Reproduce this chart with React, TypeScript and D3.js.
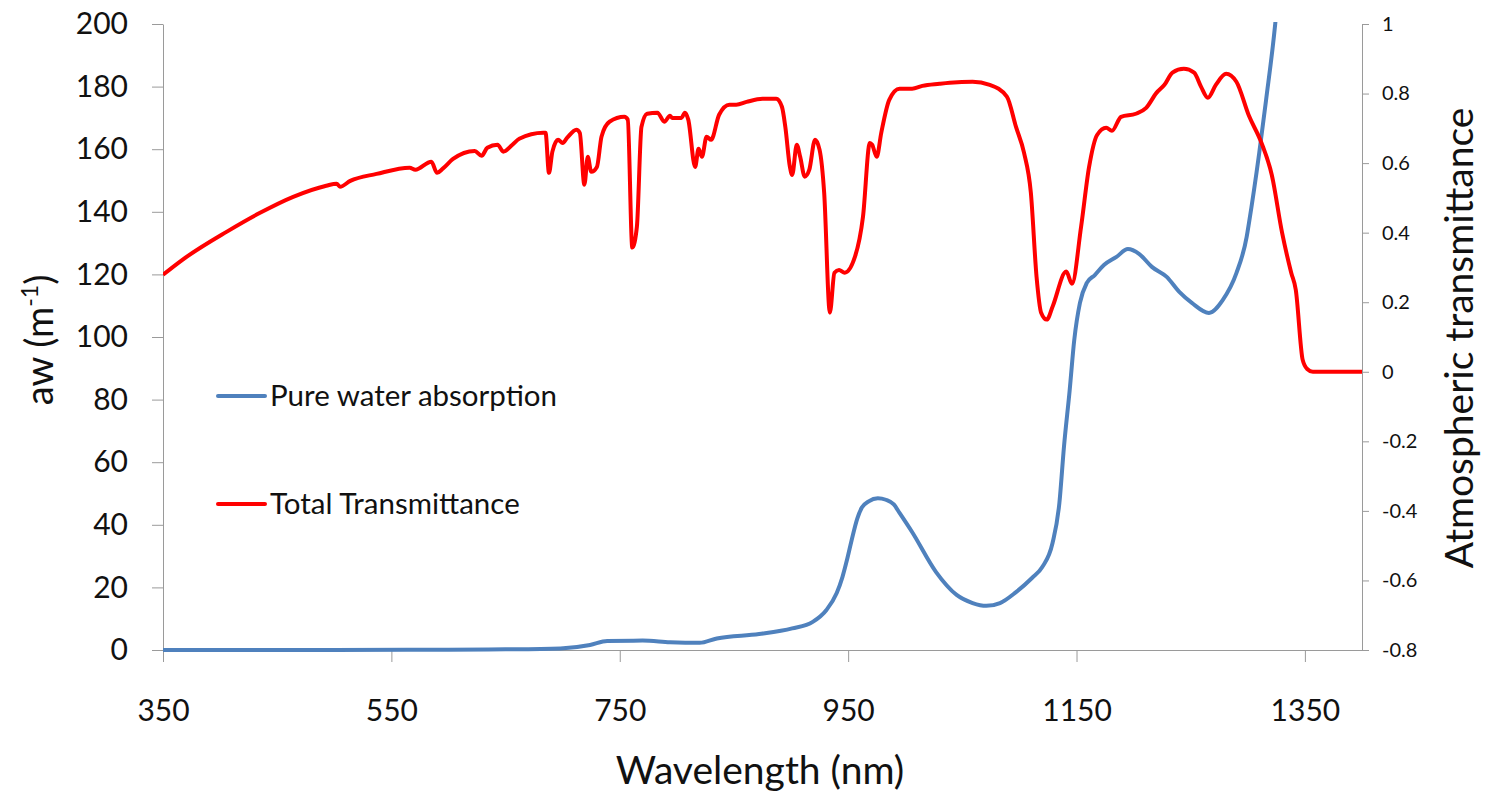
import { useEffect, useRef } from 'react';
import * as d3 from 'd3';

// wavelength (nm) / pure water absorption (m-1), left axis
const waterNm = [350, 500, 600, 650, 698, 724, 739, 770, 794, 820, 835, 872, 901, 919, 931, 940, 945, 949, 953, 958, 962, 968, 976, 983, 990, 995, 1006, 1027, 1045, 1059, 1071, 1083, 1097, 1111, 1120, 1129, 1135, 1139, 1144, 1148, 1153, 1159, 1166, 1174, 1185, 1195, 1205, 1216, 1229, 1240, 1251, 1266, 1278, 1290, 1299, 1301, 1310, 1316, 1324, 1330];
const waterAbs = [0, 0, 0.1, 0.2, 0.5, 1.6, 2.9, 3.0, 2.5, 2.3, 3.7, 5.1, 6.9, 9.0, 12.8, 18.2, 23.3, 28.8, 35, 42, 45.5, 47.5, 48.5, 48, 46.5, 43.8, 37.7, 24.9, 17.6, 15.0, 14.1, 15.0, 18.5, 23.0, 26.5, 34.2, 47, 64.9, 83, 99, 110.9, 117.3, 119.8, 123, 125.6, 128.1, 126.5, 122.4, 119.2, 114.4, 110.9, 107.7, 111.8, 120.4, 132, 136.4, 158.8, 175.7, 200, 225];

// wavelength (nm) / total atmospheric transmittance, right axis
const transNm = [350, 367, 406, 435, 464, 493, 502, 505, 514, 537, 566, 571, 585, 590, 595, 604, 623, 629, 634, 643, 648, 656, 662, 683, 685, 688, 691, 696, 700, 704, 712, 715, 719, 722, 725, 730, 734, 741, 754, 757, 761, 765, 769, 774, 783, 789, 794, 796, 804, 807, 810, 816, 819, 822, 826, 830, 837, 846, 852, 861, 875, 887, 892, 895, 899, 901, 905, 908, 912, 916, 921, 925, 929, 934, 938, 942, 947, 956, 963, 969, 971, 975, 979, 986, 995, 1006, 1015, 1030, 1039, 1059, 1074, 1089, 1097, 1104, 1110, 1115, 1119, 1124, 1129, 1141, 1146, 1154, 1161, 1168, 1176, 1181, 1189, 1202, 1211, 1220, 1227, 1234, 1244, 1253, 1259, 1265, 1272, 1281, 1290, 1301, 1312, 1321, 1330, 1338, 1342, 1348, 1352, 1357, 1400];
const transVal = [0.279, 0.322, 0.403, 0.457, 0.503, 0.535, 0.541, 0.532, 0.549, 0.569, 0.587, 0.581, 0.604, 0.572, 0.584, 0.612, 0.635, 0.621, 0.644, 0.653, 0.633, 0.653, 0.670, 0.687, 0.687, 0.572, 0.633, 0.667, 0.658, 0.673, 0.696, 0.687, 0.538, 0.618, 0.575, 0.589, 0.676, 0.719, 0.733, 0.725, 0.357, 0.417, 0.704, 0.742, 0.745, 0.719, 0.736, 0.730, 0.730, 0.745, 0.725, 0.589, 0.641, 0.618, 0.676, 0.667, 0.739, 0.768, 0.768, 0.776, 0.785, 0.785, 0.762, 0.704, 0.589, 0.566, 0.653, 0.618, 0.561, 0.581, 0.667, 0.638, 0.515, 0.170, 0.285, 0.293, 0.285, 0.331, 0.446, 0.658, 0.653, 0.618, 0.687, 0.782, 0.814, 0.814, 0.822, 0.828, 0.831, 0.834, 0.825, 0.791, 0.704, 0.630, 0.515, 0.273, 0.170, 0.150, 0.187, 0.288, 0.253, 0.417, 0.589, 0.681, 0.702, 0.693, 0.733, 0.742, 0.759, 0.802, 0.825, 0.860, 0.871, 0.860, 0.820, 0.788, 0.825, 0.857, 0.834, 0.736, 0.658, 0.566, 0.400, 0.285, 0.236, 0.035, 0.008, 0, 0];

const xTicks = [350, 550, 750, 950, 1150, 1350];
const leftTicks = [0, 20, 40, 60, 80, 100, 120, 140, 160, 180, 200];
const rightTicks = [-0.8, -0.6, -0.4, -0.2, 0, 0.2, 0.4, 0.6, 0.8, 1];

const FONT = 'Lato, "Open Sans", sans-serif';
const BLUE = '#4f81bd';
const RED = '#ff0000';
const AXIS = '#9a9a9a';

const App = () => {
  const svgRef = useRef(null);

  useEffect(() => {
    if (!svgRef.current) return;
    const svg = d3.select(svgRef.current);
    svg.selectAll('*').remove();

    const left = 163, right = 1362, top = 24, bottom = 650;

    const x = d3.scaleLinear().domain([350, 1400]).range([left, right]);
    const yL = d3.scaleLinear().domain([0, 200]).range([bottom, top]);
    const yR = d3.scaleLinear().domain([-0.8, 1]).range([bottom, top]);

    svg.append('defs').append('clipPath')
      .attr('id', 'plot-clip')
      .append('rect')
      .attr('x', left).attr('y', top - 2)
      .attr('width', right - left).attr('height', bottom - top + 4);

    // axes
    const xAxis = svg.append('g')
      .attr('transform', `translate(0,${bottom})`)
      .call(d3.axisBottom(x).tickValues(xTicks).tickSize(12).tickSizeOuter(0).tickPadding(38).tickFormat(d => `${d}`));
    xAxis.selectAll('text').style('font-size', '30px');

    const lAxis = svg.append('g')
      .attr('transform', `translate(${left},0)`)
      .call(d3.axisLeft(yL).tickValues(leftTicks).tickSize(11).tickSizeOuter(0).tickPadding(24).tickFormat(d => `${d}`));
    lAxis.selectAll('text').style('font-size', '30px');

    const rAxis = svg.append('g')
      .attr('transform', `translate(${right},0)`)
      .call(d3.axisRight(yR).tickValues(rightTicks).tickSize(7).tickSizeOuter(0).tickPadding(13).tickFormat(d => `${d}`));
    rAxis.selectAll('text').style('font-size', '20px');

    svg.selectAll('.domain, .tick line').attr('stroke', AXIS);
    svg.selectAll('.tick text').attr('fill', '#111').style('font-family', FONT);

    // series
    const plot = svg.append('g').attr('clip-path', 'url(#plot-clip)');

    const waterLine = d3.line()
      .x((d, i) => x(waterNm[i]))
      .y(d => yL(d))
      .curve(d3.curveMonotoneX);

    const transLine = d3.line()
      .x((d, i) => x(transNm[i]))
      .y(d => yR(d))
      .curve(d3.curveMonotoneX);

    plot.append('path')
      .attr('d', waterLine(waterAbs))
      .attr('fill', 'none')
      .attr('stroke', BLUE)
      .attr('stroke-width', 4)
      .attr('stroke-linejoin', 'round');

    plot.append('path')
      .attr('d', transLine(transVal))
      .attr('fill', 'none')
      .attr('stroke', RED)
      .attr('stroke-width', 4)
      .attr('stroke-linejoin', 'round');

    // legend
    const legend = [
      { label: 'Pure water absorption', color: BLUE, y: 396 },
      { label: 'Total Transmittance', color: RED, y: 504 },
    ];
    legend.forEach(item => {
      svg.append('line')
        .attr('x1', 218).attr('x2', 265)
        .attr('y1', item.y).attr('y2', item.y)
        .attr('stroke', item.color)
        .attr('stroke-width', 4)
        .attr('stroke-linecap', 'round');
      svg.append('text')
        .attr('x', 270).attr('y', item.y)
        .attr('dy', '0.35em')
        .style('font-family', FONT)
        .style('font-size', '29.5px')
        .attr('fill', '#111')
        .text(item.label);
    });

    // axis titles
    svg.append('text')
      .attr('x', 760).attr('y', 784)
      .attr('text-anchor', 'middle')
      .style('font-family', FONT)
      .style('font-size', '39px')
      .attr('fill', '#111')
      .text('Wavelength (nm)');

    const yTitle = svg.append('text')
      .attr('transform', 'translate(53,340) rotate(-90)')
      .attr('text-anchor', 'middle')
      .style('font-family', FONT)
      .style('font-size', '38px')
      .attr('fill', '#111');
    yTitle.append('tspan').text('aw (m');
    yTitle.append('tspan').attr('dy', -15).style('font-size', '23px').text('-1');
    yTitle.append('tspan').attr('dy', 15).text(')');

    svg.append('text')
      .attr('transform', 'translate(1473,338) rotate(-90)')
      .attr('text-anchor', 'middle')
      .style('font-family', FONT)
      .style('font-size', '39px')
      .attr('fill', '#111')
      .text('Atmospheric transmittance');
  }, []);

  return (
    <svg
      ref={svgRef}
      width={1485}
      height={798}
      style={{ position: 'absolute', left: 0, top: 0, background: '#fff' }}
    />
  );
};

export default App;
